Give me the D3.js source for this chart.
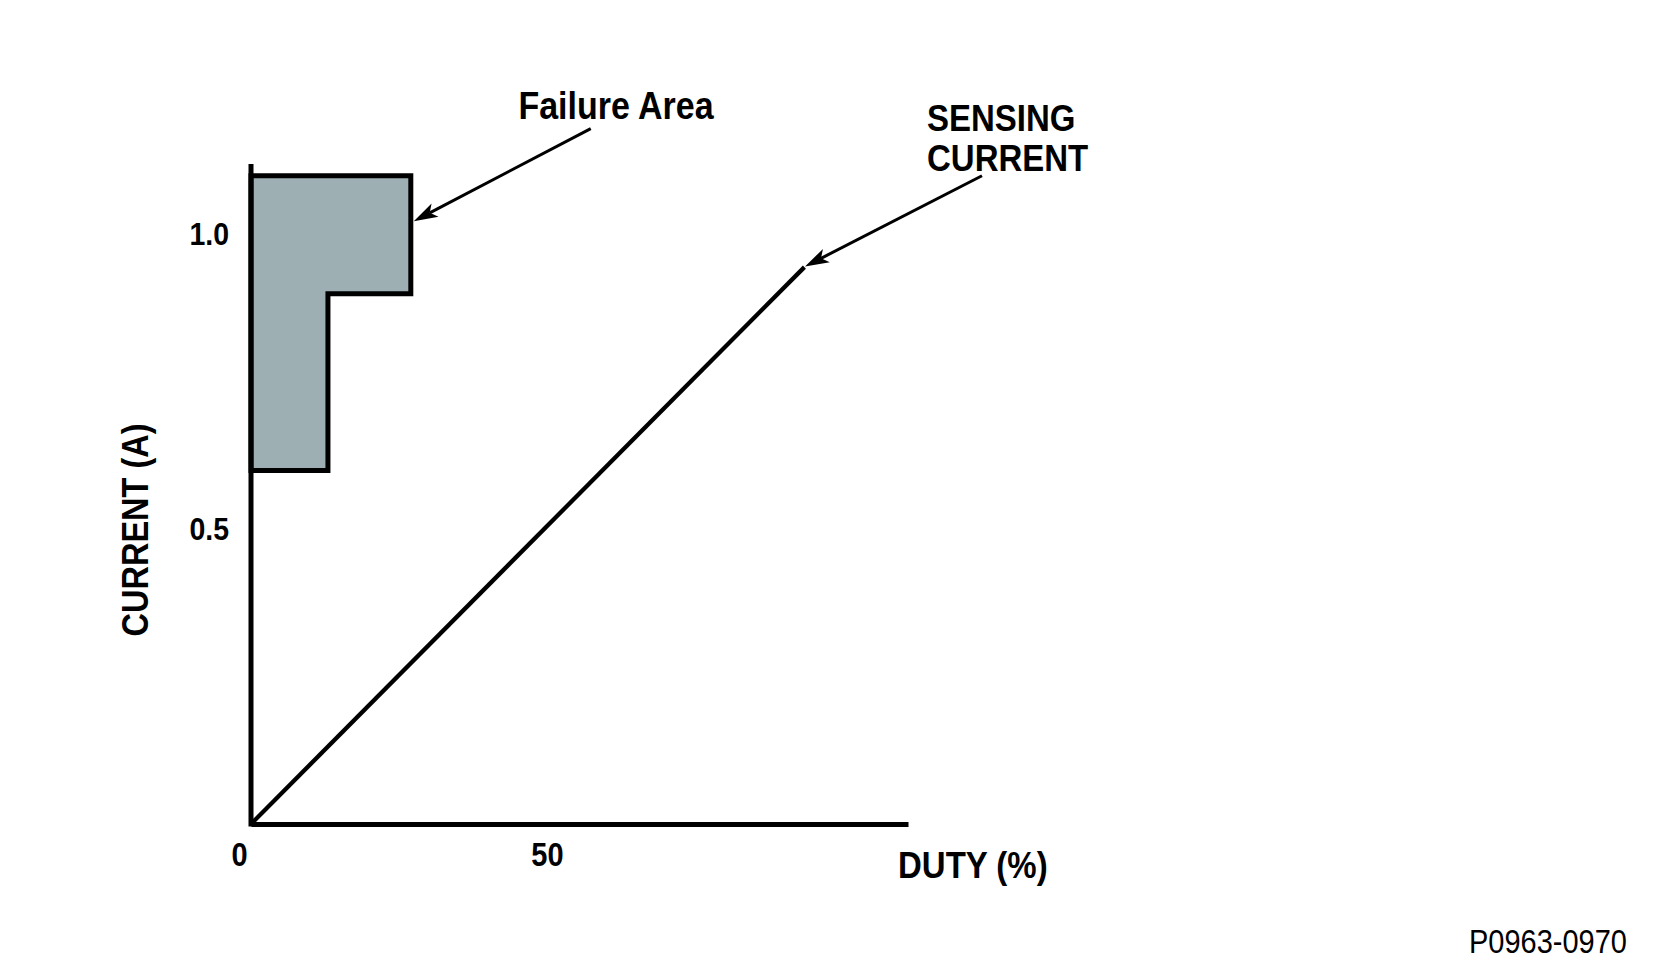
<!DOCTYPE html>
<html>
<head>
<meta charset="utf-8">
<script src="https://cdn.jsdelivr.net/npm/d3@7"></script>
<style>
  html, body { margin: 0; padding: 0; background: #ffffff; }
  svg { display: block; }
  text { font-family: "Liberation Sans", Arial, sans-serif; fill: #000; }
</style>
</head>
<body>
<svg id="chart" width="1660" height="970"></svg>
<script>
// ---- data ----
const xTicks = [0, 50];
const xTickLabels = ["0", "50"];
const yTicks = [0.5, 1.0];
const yTickLabels = ["0.5", "1.0"];
const xDomain = [0, 111];
const yDomain = [0, 1.12];
const failureArea = [[0, 1.1], [27, 1.1], [27, 0.9], [13, 0.9], [13, 0.6], [0, 0.6]];
const sensingCurrent = [[0, 0], [93.5, 0.945]];
const failureArrow = [[57.4, 1.18], [27.5, 1.023]];
const sensingArrow = [[123.5, 1.10], [93.6, 0.946]];
const failureLabel = ["Failure Area"];
const sensingLabel = ["SENSING", "CURRENT"];
const xTitle = "DUTY (%)";
const yTitle = "CURRENT (A)";
const figureId = "P0963-0970";

// ---- layout ----
const svg = d3.select("#chart");
const x = d3.scaleLinear().domain(xDomain).range([251, 908]);
const y = d3.scaleLinear().domain(yDomain).range([824, 164]);
const STRETCH = 1.12; // reference glyphs are slightly taller than Liberation Sans

const line = d3.line().x(d => x(d[0])).y(d => y(d[1]));

function addText(px, py, str, size, weight, anchor, rotate) {
  return svg.append("text")
    .attr("transform", `translate(${px},${py})` + (rotate ? ` rotate(${rotate})` : "") + ` scale(1,${STRETCH})`)
    .attr("text-anchor", anchor || "start")
    .attr("font-size", size)
    .attr("font-weight", weight || "normal")
    .text(str);
}

function addArrow(pts) {
  const x0 = x(pts[0][0]), y0 = y(pts[0][1]);
  const x1 = x(pts[1][0]), y1 = y(pts[1][1]);
  const ang = Math.atan2(y1 - y0, x1 - x0);
  const L = 24, W = 7.5, N = 18;
  const ux = Math.cos(ang), uy = Math.sin(ang);
  const px = -uy, py = ux;
  svg.append("line")
    .attr("x1", x0).attr("y1", y0)
    .attr("x2", x1 - ux * N).attr("y2", y1 - uy * N)
    .attr("stroke", "#000").attr("stroke-width", 3);
  const bx = x1 - ux * L, by = y1 - uy * L;
  const nx = x1 - ux * N, ny = y1 - uy * N;
  svg.append("path")
    .attr("d", `M${x1},${y1}L${bx + px * W},${by + py * W}L${nx},${ny}L${bx - px * W},${by - py * W}Z`)
    .attr("fill", "#000");
}

// failure area polygon
svg.append("path")
  .datum(failureArea)
  .attr("d", d => line(d) + "Z")
  .attr("fill", "#9eafb4")
  .attr("stroke", "#000")
  .attr("stroke-width", 5)
  .attr("stroke-linejoin", "miter");

// sensing current line
svg.append("path")
  .datum(sensingCurrent)
  .attr("d", line)
  .attr("fill", "none")
  .attr("stroke", "#000")
  .attr("stroke-width", 4.3);

// axes
const xAxis = d3.axisBottom(x).tickValues(xTicks).tickSize(0).tickSizeOuter(0)
  .tickFormat((d, i) => xTickLabels[i]);
const gx = svg.append("g").attr("transform", `translate(0,${y(0)})`).call(xAxis);
gx.select(".domain").attr("stroke", "#000").attr("stroke-width", 5);
gx.selectAll(".tick text")
  .attr("y", null).attr("dy", null)
  .attr("transform", (d, i) => `translate(${i === 0 ? -12 : 0},42) scale(1,${STRETCH})`)
  .attr("font-size", 29).attr("font-weight", "bold")
  .attr("font-family", "Liberation Sans, Arial, sans-serif")
  .attr("fill", "#000");

const yAxis = d3.axisLeft(y).tickValues(yTicks).tickSize(0).tickSizeOuter(0)
  .tickFormat((d, i) => yTickLabels[i]);
const gy = svg.append("g").attr("transform", `translate(${x(0)},0)`).call(yAxis);
gy.select(".domain").attr("stroke", "#000").attr("stroke-width", 5)
  .attr("d", `M0,${y(yDomain[1])}V${y(0) + 2.5}`);
gy.selectAll(".tick text")
  .attr("x", null).attr("dy", null)
  .attr("transform", `translate(-22,10) scale(1,${STRETCH})`)
  .attr("font-size", 28.5).attr("font-weight", "bold")
  .attr("font-family", "Liberation Sans, Arial, sans-serif")
  .attr("fill", "#000");

// axis titles
addText(898, 878, xTitle, 33, "bold");
addText(148, 530, yTitle, 32.5, "bold", "middle", -90);

// annotations
addArrow(failureArrow);
addArrow(sensingArrow);

addText(616, 119, failureLabel[0], 34, "bold", "middle");
sensingLabel.forEach((s, i) => addText(927, 131 + i * 40, s, 33, "bold"));

addText(1548, 953, figureId, 29, "normal", "middle");
</script>
</body>
</html>
